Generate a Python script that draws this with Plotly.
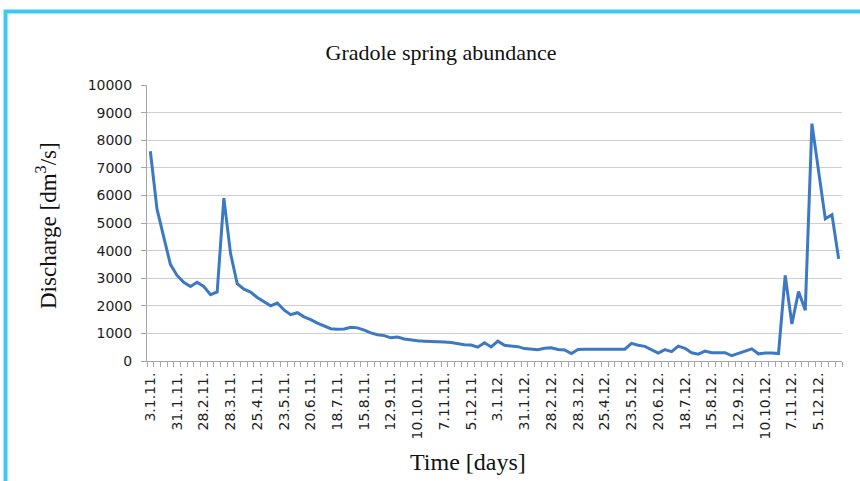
import plotly.graph_objects as go

# Weekly discharge of the Gradole spring, 2011-2012 (dm3/s)
discharge = [
    7600, 5500, 4500, 3500, 3100, 2850, 2700, 2850, 2700, 2400,
    2500, 5900, 3900, 2800, 2600, 2500, 2300, 2150, 2000, 2100,
    1850, 1680, 1750, 1600, 1500, 1370, 1260, 1170, 1150, 1160,
    1220, 1200, 1120, 1020, 950, 920, 840, 870, 800, 760,
    730, 720, 715, 715, 690, 670, 620, 590, 580, 500,
    660, 510, 720, 570, 540, 520, 450, 420, 410, 460,
    480, 420, 400, 270, 420, 430, 430, 430, 430, 430,
    430, 430, 640, 570, 530, 400, 290, 410, 340, 540,
    460, 300, 250, 360, 300, 300, 300, 190, 280, 350,
    440, 260, 290, 290, 270, 3100, 1340, 2520, 1840, 8600,
    6950, 5150, 5300, 3700,
]
week = list(range(len(discharge)))

# Dates shown under every fourth weekly measurement
tick_labels = [
    "3.1.11.", "31.1.11.", "28.2.11.", "28.3.11.", "25.4.11.", "23.5.11.",
    "20.6.11.", "18.7.11.", "15.8.11.", "12.9.11.", "10.10.11.", "7.11.11.",
    "5.12.11.", "3.1.12.", "31.1.12.", "28.2.12.", "28.3.12.", "25.4.12.",
    "23.5.12.", "20.6.12.", "18.7.12.", "15.8.12.", "12.9.12.", "10.10.12.",
    "7.11.12.", "5.12.12.",
]
tick_positions = week[::4][:len(tick_labels)]

W, H = 860, 481
ML, MR, MT, MB = 147, 18, 85, 120
pw, ph = W - ML - MR, H - MT - MB

def px_x(x):
    return (x - ML) / pw

def px_y(y):
    return (H - MB - y) / ph

serif = "Liberation Serif, Times New Roman, serif"
sans = "DejaVu Sans, Arial, sans-serif"
axis_grey = "#a6a6a6"
text_col = "#1e1e1e"

fig = go.Figure(
    go.Scatter(
        x=week,
        y=discharge,
        mode="lines",
        line=dict(color="#3d78c3", width=3),
        hoverinfo="x+y",
    )
)

fig.update_layout(
    width=W,
    height=H,
    margin=dict(l=ML, r=MR, t=MT, b=MB),
    paper_bgcolor="white",
    plot_bgcolor="white",
    showlegend=False,
    title=dict(
        text="Gradole spring abundance",
        x=441 / W,
        xanchor="center",
        y=1 - 52 / H,
        yanchor="middle",
        font=dict(family=serif, size=22, color="#111111"),
    ),
)

fig.update_xaxes(
    range=[-0.5, len(discharge) - 0.5],
    tickmode="array",
    tickvals=tick_positions,
    ticktext=tick_labels,
    tickangle=-90,
    ticks="",
    ticklabelstandoff=5,
    showgrid=False,
    zeroline=False,
    showline=True,
    linecolor=axis_grey,
    linewidth=1,
    tickfont=dict(family=sans, size=14, color=text_col),
    minor=dict(
        tickmode="linear",
        tick0=-0.5,
        dtick=1,
        ticks="outside",
        ticklen=5,
        tickwidth=1,
        tickcolor=axis_grey,
        showgrid=False,
    ),
)

fig.update_yaxes(
    range=[0, 10000],
    tickmode="linear",
    tick0=0,
    dtick=1000,
    tickformat="d",
    ticks="outside",
    ticklen=5,
    tickcolor=axis_grey,
    ticklabelstandoff=6,
    showgrid=True,
    gridcolor="#cfcfcf",
    gridwidth=1,
    zeroline=False,
    showline=True,
    linecolor=axis_grey,
    linewidth=1,
    tickfont=dict(family=sans, size=14, color=text_col),
)

# Axis titles
fig.add_annotation(
    text="Discharge [dm<sup>3</sup>/s]",
    xref="paper", yref="paper",
    x=px_x(46), y=px_y(226),
    xanchor="center", yanchor="middle",
    textangle=-90,
    showarrow=False,
    font=dict(family=serif, size=23, color="#111111"),
)
fig.add_annotation(
    text="Time [days]",
    xref="paper", yref="paper",
    x=px_x(468), y=px_y(462),
    xanchor="center", yanchor="middle",
    showarrow=False,
    font=dict(family=serif, size=24, color="#111111"),
)

# Light blue frame along the top and left edges
fig.add_shape(
    type="path",
    xref="paper", yref="paper",
    path=f"M {px_x(5.5)} {px_y(H + 10)} L {px_x(5.5)} {px_y(11.5)} L {px_x(W + 10)} {px_y(11.5)}",
    line=dict(color="#3fc8f2", width=4),
)

fig.write_html("out.html")
